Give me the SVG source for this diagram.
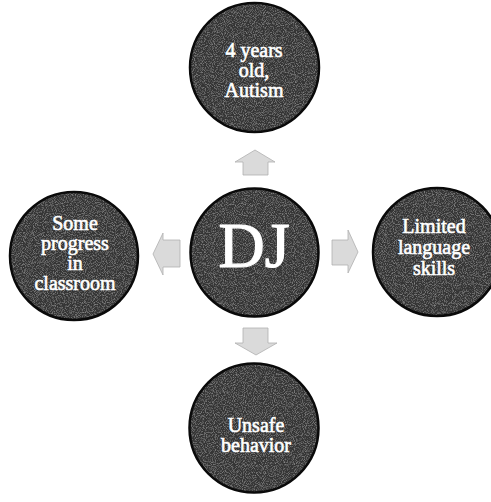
<svg xmlns="http://www.w3.org/2000/svg" width="491" height="502" viewBox="0 0 491 502">
<defs>
<filter id="grain" x="-5%" y="-5%" width="110%" height="110%">
<feTurbulence type="fractalNoise" baseFrequency="1.1" numOctaves="1" seed="3" result="n"/>
<feColorMatrix in="n" type="matrix" values="0 0 0 0 0.5  0 0 0 0 0.5  0 0 0 0 0.5  0 0 0 1.2 -0.55" result="g"/>
<feComposite in="g" in2="SourceGraphic" operator="in" result="gc"/>
<feMerge><feMergeNode in="SourceGraphic"/><feMergeNode in="gc"/></feMerge>
</filter>
</defs>
<style>
.fillc{fill:#363636}
.ring{fill:none;stroke:#0a0a0a;stroke-width:2.5}
.lbl{font-family:"Liberation Serif","DejaVu Serif",serif;font-size:20px;fill:#fff;stroke:#fff;stroke-width:0.6;text-anchor:middle}
.big{font-size:64px;stroke-width:1.2}
.arr{fill:#dadada;stroke:#b0b0b0;stroke-width:0.8}
</style>
<rect width="491" height="502" fill="#fff"/>
<g id="connectors">
<polygon class="arr" points="255,150 275,162 268,162 268,175 243,175 243,162 235,162"/>
<polygon class="arr" points="243,328 268,328 268,343 277,343 256,355 235,343 243,343"/>
<polygon class="arr" points="153,254 163,233 163,240 180,240 180,267 163,267 163,275"/>
<polygon class="arr" points="332,240 348,240 348,230 358,252 348,273 348,265 332,265"/>
</g>
<g id="center">
<circle class="fillc" cx="254.5" cy="252.5" r="64" filter="url(#grain)"/>
<circle class="ring" cx="254.5" cy="252.5" r="64"/>
<text class="lbl big" x="254" y="267">DJ</text>
</g>
<g id="top">
<circle class="fillc" cx="254.5" cy="67.5" r="64.5" filter="url(#grain)"/>
<circle class="ring" cx="254.5" cy="67.5" r="64.5"/>
<text class="lbl" x="254" y="57">4 years</text>
<text class="lbl" x="254" y="77">old,</text>
<text class="lbl" x="254" y="97">Autism</text>
</g>
<g id="left">
<circle class="fillc" cx="74" cy="256" r="64" filter="url(#grain)"/>
<circle class="ring" cx="74" cy="256" r="64"/>
<text class="lbl" x="75" y="230">Some</text>
<text class="lbl" x="75" y="250">progress</text>
<text class="lbl" x="75" y="270">in</text>
<text class="lbl" x="75" y="290">classroom</text>
</g>
<g id="right">
<circle class="fillc" cx="437" cy="252" r="64" filter="url(#grain)"/>
<circle class="ring" cx="437" cy="252" r="64"/>
<text class="lbl" x="434" y="233">Limited</text>
<text class="lbl" x="434" y="254">language</text>
<text class="lbl" x="434" y="275">skills</text>
</g>
<g id="bottom">
<circle class="fillc" cx="254" cy="428" r="64.5" filter="url(#grain)"/>
<circle class="ring" cx="254" cy="428" r="64.5"/>
<text class="lbl" x="256" y="432">Unsafe</text>
<text class="lbl" x="256" y="452">behavior</text>
</g>
</svg>
